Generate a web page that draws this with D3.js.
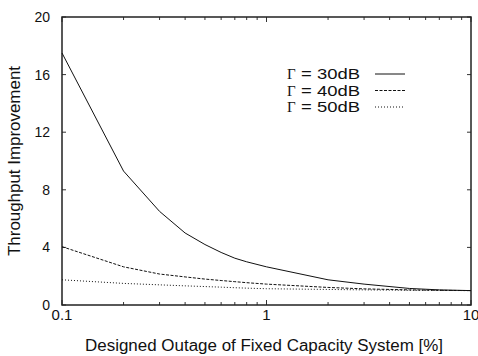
<!DOCTYPE html>
<html>
<head>
<meta charset="utf-8">
<script src="https://cdn.jsdelivr.net/npm/d3@7"></script>
<style>
  body { margin: 0; background: #fff; }
  text { font-family: "Liberation Sans", Arial, sans-serif; fill: #111; }
</style>
</head>
<body>
<div id="chart"></div>
<script>
const width = 478;
const height = 356;
const margin = { top: 17, right: 7, bottom: 51, left: 62 };

// outage [%]
const outage = [0.1, 0.2, 0.3, 0.4, 0.5, 0.6, 0.7, 0.8, 1, 2, 3, 5, 7, 10];
const gain30 = [17.5, 9.3, 6.5, 5.0, 4.2, 3.65, 3.25, 3.0, 2.65, 1.75, 1.45, 1.15, 1.05, 1.0];
const gain40 = [4.05, 2.65, 2.15, 1.95, 1.8, 1.7, 1.62, 1.55, 1.45, 1.22, 1.12, 1.05, 1.02, 1.0];
const gain50 = [1.75, 1.5, 1.4, 1.33, 1.28, 1.24, 1.2, 1.17, 1.13, 1.08, 1.05, 1.02, 1.01, 1.0];

const seriesNames = ["= 30dB", "= 40dB", "= 50dB"];
const seriesDash = ["none", "3,1.5", "1,2"];
const yTicks = [0, 4, 8, 12, 16, 20];
const xMajor = [0.1, 1, 10];
const xTickLabels = ["0.1", "1", "10"];

const series = [gain30, gain40, gain50];

const svg = d3.select("#chart")
  .append("svg")
  .attr("width", width)
  .attr("height", height);

const x = d3.scaleLog()
  .domain([0.1, 10])
  .range([margin.left, width - margin.right]);

const y = d3.scaleLinear()
  .domain([0, 20])
  .range([height - margin.bottom, margin.top]);

const x0 = x.range()[0], x1 = x.range()[1];
const y0 = y.range()[0], y1 = y.range()[1];

// minor log ticks
const xMinor = [];
[0.1, 1].forEach((d) => {
  for (let k = 2; k <= 9; k++) xMinor.push(d * k);
});

const tickG = svg.append("g").attr("stroke", "#333").attr("stroke-width", 1);

// bottom / top ticks (inward)
xMinor.concat(xMajor).forEach((v) => {
  const len = xMajor.includes(v) ? 5 : 3;
  tickG.append("line")
    .attr("x1", x(v)).attr("x2", x(v))
    .attr("y1", y0).attr("y2", y0 - len);
  tickG.append("line")
    .attr("x1", x(v)).attr("x2", x(v))
    .attr("y1", y1).attr("y2", y1 + len);
});

// left / right ticks
yTicks.forEach((v) => {
  tickG.append("line")
    .attr("x1", x0).attr("x2", x0 + 4)
    .attr("y1", y(v)).attr("y2", y(v));
  tickG.append("line")
    .attr("x1", x1).attr("x2", x1 - 4)
    .attr("y1", y(v)).attr("y2", y(v));
});

// frame
svg.append("rect")
  .attr("x", x0).attr("y", y1)
  .attr("width", x1 - x0).attr("height", y0 - y1)
  .attr("fill", "none")
  .attr("stroke", "#222")
  .attr("stroke-width", 1.5);

// tick labels
svg.append("g")
  .selectAll("text")
  .data(yTicks)
  .join("text")
  .attr("x", x0 - 12)
  .attr("y", (d) => y(d) + 5)
  .attr("text-anchor", "end")
  .attr("font-size", 14)
  .text((d) => d);

svg.append("g")
  .selectAll("text")
  .data(xMajor)
  .join("text")
  .attr("x", (d) => x(d))
  .attr("y", y0 + 15)
  .attr("text-anchor", "middle")
  .attr("font-size", 15)
  .text((d, i) => xTickLabels[i]);

// axis titles
svg.append("text")
  .attr("transform", `translate(20,${(y0 + y1) / 2}) rotate(-90)`)
  .attr("text-anchor", "middle")
  .attr("font-size", 16)
  .attr("textLength", 190)
  .attr("lengthAdjust", "spacingAndGlyphs")
  .text("Throughput Improvement");

svg.append("text")
  .attr("x", 264)
  .attr("y", height - 5)
  .attr("text-anchor", "middle")
  .attr("font-size", 16)
  .attr("textLength", 358)
  .attr("lengthAdjust", "spacingAndGlyphs")
  .text("Designed Outage of Fixed Capacity System [%]");

// curves
const line = d3.line()
  .x((d, i) => x(outage[i]))
  .y((d) => y(d));

svg.append("g")
  .selectAll("path")
  .data(series)
  .join("path")
  .attr("d", line)
  .attr("fill", "none")
  .attr("stroke", "#111")
  .attr("stroke-width", 1)
  .attr("stroke-dasharray", (d, i) => seriesDash[i]);

// legend
const legend = svg.append("g");
seriesNames.forEach((name, i) => {
  const ly = 74 + i * 16.5;
  legend.append("text")
    .attr("x", 287)
    .attr("y", ly + 5)
    .attr("font-size", 15)
    .style("font-family", "'Liberation Serif', serif")
    .text("Γ");
  legend.append("text")
    .attr("x", 301)
    .attr("y", ly + 5)
    .attr("font-size", 15)
    .attr("textLength", 59)
    .attr("lengthAdjust", "spacingAndGlyphs")
    .text(name);
  legend.append("line")
    .attr("x1", 375).attr("x2", 405)
    .attr("y1", ly).attr("y2", ly)
    .attr("stroke", "#111")
    .attr("stroke-width", 1)
    .attr("stroke-dasharray", seriesDash[i]);
});
</script>
</body>
</html>
